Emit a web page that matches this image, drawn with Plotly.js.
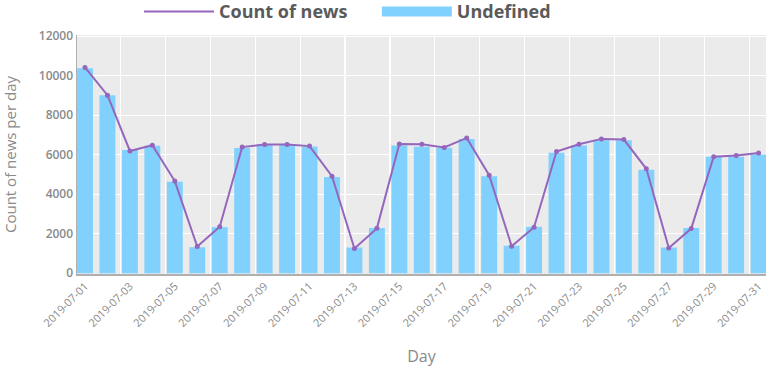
<!DOCTYPE html>
<html>
<head>
<meta charset="utf-8">
<script src="https://cdn.plot.ly/plotly-3.0.1.min.js"></script>
<style>html,body{margin:0;padding:0;background:#fff;}#chart{width:766px;height:367px;}</style>
</head>
<body>
<div id="chart"></div>
<script>
const days = ['2019-07-01','2019-07-02','2019-07-03','2019-07-04','2019-07-05','2019-07-06','2019-07-07','2019-07-08','2019-07-09','2019-07-10','2019-07-11','2019-07-12','2019-07-13','2019-07-14','2019-07-15','2019-07-16','2019-07-17','2019-07-18','2019-07-19','2019-07-20','2019-07-21','2019-07-22','2019-07-23','2019-07-24','2019-07-25','2019-07-26','2019-07-27','2019-07-28','2019-07-29','2019-07-30','2019-07-31'];
const countOfNews = [10420, 9015, 6190, 6480, 4665, 1350, 2350, 6385, 6520, 6520, 6435, 4915, 1250, 2270, 6540, 6530, 6365, 6850, 4965, 1370, 2330, 6165, 6530, 6800, 6765, 5285, 1280, 2260, 5900, 5965, 6085];
const undefinedCounts = [10375, 9015, 6240, 6450, 4635, 1316, 2330, 6335, 6530, 6520, 6415, 4865, 1300, 2290, 6470, 6400, 6350, 6800, 4915, 1390, 2350, 6100, 6470, 6735, 6735, 5235, 1300, 2290, 5900, 5900, 6015];
const seriesNames = ['Count of news', 'Undefined'];

const FONT = "'Open Sans', 'DejaVu Sans', sans-serif";
const LINE_COLOR = '#9467bd';
const BAR_COLOR = '#81d1fe';
const LEGEND_FONT = {family:FONT, size:18, color:'#5a5a5a', weight:700};
const traces = [
  // bars (legend entry drawn by the proxy below)
  {type:'bar', name:seriesNames[1], x:days, y:undefinedCounts, showlegend:false,
   marker:{color:BAR_COLOR}},
  // line
  {type:'scatter', mode:'lines', name:seriesNames[0], x:days, y:countOfNews, legend:'legend',
   line:{color:LINE_COLOR, width:2}},
  // point markers on the line
  {type:'scatter', mode:'markers', name:seriesNames[0], x:days, y:countOfNews, showlegend:false,
   marker:{color:LINE_COLOR, size:5}},
  // legend proxy for the bar series (wide swatch)
  {type:'scatter', mode:'lines', name:seriesNames[1], x:[null], y:[null], legend:'legend2',
   line:{color:BAR_COLOR, width:10}, hoverinfo:'skip'}
];
const layout = {
  width:766, height:367,
  margin:{l:77, r:0, t:35, b:93},
  paper_bgcolor:'#ffffff', plot_bgcolor:'#ebebeb',
  bargap:0.29,
  font:{family:FONT, color:'#888888'},
  showlegend:true,
  legend:{orientation:'h', xref:'container', yref:'container', x:0.1815, y:0.968, yanchor:'middle', xanchor:'left',
          font:LEGEND_FONT, itemwidth:70, bgcolor:'rgba(0,0,0,0)'},
  legend2:{orientation:'h', xref:'container', yref:'container', x:0.492, y:0.968, yanchor:'middle', xanchor:'left',
          font:LEGEND_FONT, itemwidth:70, bgcolor:'rgba(0,0,0,0)'},
  xaxis:{type:'date', range:['2019-06-30 15:27', '2019-07-31 07:55'],
         tickmode:'linear', tick0:'2019-07-01', dtick:172800000, tickformat:'%Y-%m-%d', tickangle:-45,
         tickfont:{size:11, color:'#8a8a8a'}, showgrid:false, zeroline:false,
         showline:true, linecolor:'#b0b0b0', linewidth:1.5, ticks:'', automargin:false,
         minor:{tick0:'2019-07-02 14:00', dtick:172800000, showgrid:true, gridcolor:'#ffffff', gridwidth:1.2, ticks:''},
         title:{text:'Day', font:{size:16, color:'#8a8a8a'}, standoff:48}},
  yaxis:{range:[-40, 12060], tickmode:'linear', tick0:0, dtick:2000, tickformat:'d',
         tickfont:{size:12, color:'#8a8a8a', weight:600}, showgrid:true, gridcolor:'#ffffff', gridwidth:1.2,
         zeroline:false, showline:true, linecolor:'#b0b0b0', linewidth:1.5, ticks:'', automargin:false,
         title:{text:'Count of news per day', font:{size:15, color:'#8a8a8a'}, standoff:29}}
};
Plotly.newPlot('chart', traces, layout, {displayModeBar:false, staticPlot:true});
</script>
</body>
</html>
